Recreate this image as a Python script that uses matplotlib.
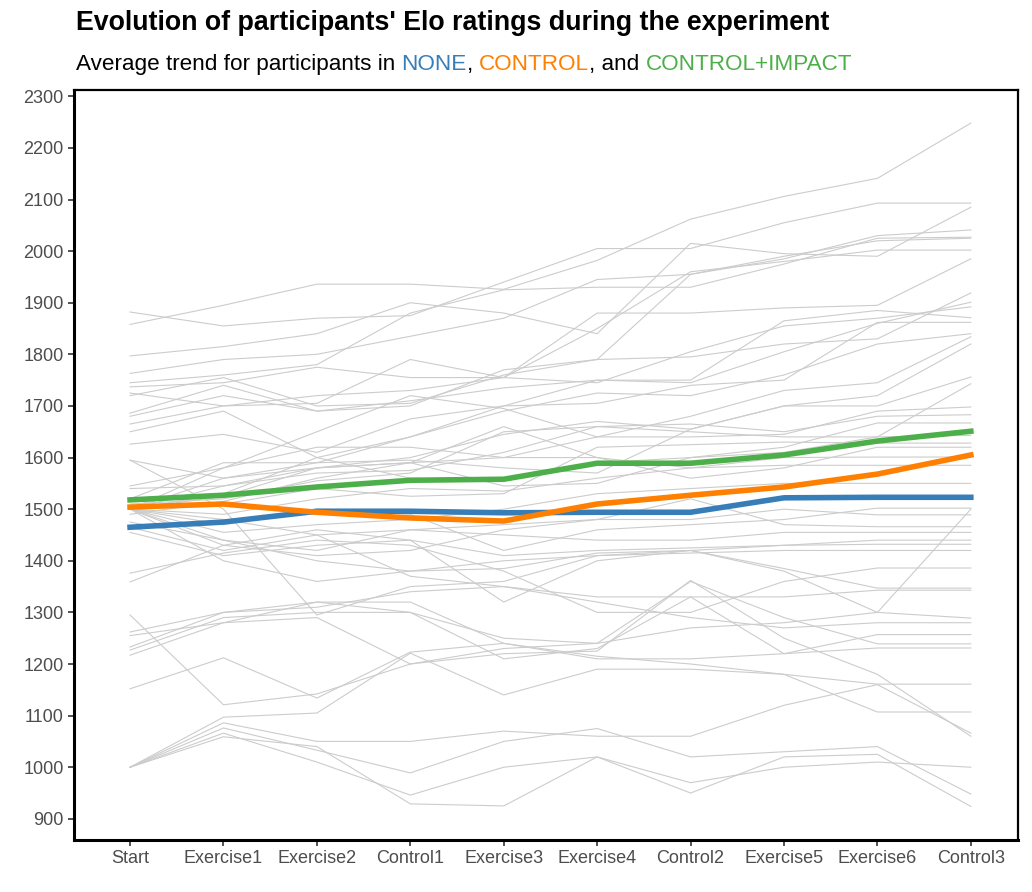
import matplotlib
matplotlib.use("Agg")
import matplotlib.pyplot as plt

plt.rcParams["font.family"] = ["Liberation Sans", "DejaVu Sans"]

STAGES = ["Start", "Exercise1", "Exercise2", "Control1", "Exercise3",
          "Exercise4", "Control2", "Exercise5", "Exercise6", "Control3"]

# group averages
NONE_AVG = [1465, 1475, 1496, 1496, 1493, 1494, 1494, 1522, 1523, 1523]
CONTROL_AVG = [1504, 1510, 1494, 1483, 1477, 1510, 1527, 1543, 1568, 1605]
IMPACT_AVG = [1518, 1527, 1543, 1556, 1558, 1589, 1589, 1605, 1632, 1651]

# individual participants
PARTICIPANTS = [
    [1858, 1895, 1936, 1936, 1926, 1982, 2062, 2106, 2141, 2248],
    [1882, 1855, 1870, 1875, 1940, 2005, 2005, 2055, 2093, 2093],
    [1797, 1815, 1840, 1900, 1880, 1840, 2015, 1995, 1990, 2085],
    [1763, 1790, 1800, 1835, 1870, 1945, 1955, 1985, 2030, 2041],
    [1745, 1760, 1780, 1880, 1925, 1930, 1930, 1975, 2025, 2027],
    [1720, 1755, 1700, 1705, 1760, 1790, 1955, 1990, 2020, 2025],
    [1737, 1745, 1775, 1755, 1755, 1850, 1960, 1980, 2002, 2002],
    [1725, 1700, 1705, 1790, 1755, 1880, 1880, 1890, 1895, 1985],
    [1686, 1740, 1690, 1700, 1770, 1790, 1795, 1820, 1830, 1919],
    [1680, 1720, 1690, 1710, 1735, 1750, 1745, 1805, 1860, 1901],
    [1665, 1700, 1720, 1730, 1755, 1745, 1805, 1855, 1870, 1892],
    [1650, 1690, 1600, 1640, 1700, 1750, 1750, 1865, 1885, 1871],
    [1626, 1645, 1610, 1675, 1700, 1705, 1740, 1750, 1862, 1862],
    [1595, 1560, 1590, 1640, 1690, 1725, 1720, 1760, 1820, 1840],
    [1545, 1580, 1650, 1720, 1695, 1640, 1680, 1730, 1745, 1834],
    [1540, 1545, 1580, 1600, 1645, 1670, 1655, 1700, 1720, 1820],
    [1520, 1590, 1590, 1595, 1580, 1570, 1655, 1700, 1700, 1756],
    [1500, 1560, 1580, 1590, 1545, 1550, 1600, 1610, 1640, 1743],
    [1500, 1580, 1620, 1620, 1600, 1640, 1640, 1645, 1690, 1698],
    [1500, 1545, 1570, 1575, 1610, 1660, 1665, 1650, 1680, 1683],
    [1500, 1530, 1600, 1560, 1555, 1590, 1600, 1620, 1667, 1667],
    [1510, 1520, 1555, 1570, 1650, 1660, 1650, 1640, 1640, 1643],
    [1500, 1510, 1540, 1525, 1530, 1620, 1625, 1630, 1628, 1628],
    [1490, 1515, 1560, 1590, 1600, 1600, 1560, 1580, 1620, 1620],
    [1500, 1525, 1580, 1590, 1660, 1600, 1580, 1600, 1601, 1601],
    [1500, 1490, 1520, 1540, 1535, 1560, 1580, 1585, 1585, 1585],
    [1500, 1455, 1470, 1480, 1500, 1530, 1540, 1550, 1550, 1550],
    [1500, 1470, 1500, 1490, 1420, 1460, 1470, 1480, 1502, 1502],
    [1475, 1440, 1420, 1460, 1470, 1480, 1480, 1500, 1489, 1489],
    [1500, 1430, 1410, 1420, 1460, 1480, 1520, 1470, 1466, 1466],
    [1465, 1420, 1450, 1460, 1450, 1440, 1440, 1455, 1455, 1455],
    [1455, 1410, 1430, 1440, 1410, 1420, 1425, 1430, 1440, 1440],
    [1500, 1440, 1400, 1380, 1385, 1415, 1420, 1430, 1432, 1432],
    [1500, 1400, 1360, 1380, 1400, 1410, 1415, 1420, 1420, 1420],
    [1376, 1415, 1440, 1430, 1380, 1300, 1300, 1360, 1386, 1386],
    [1359, 1430, 1460, 1440, 1320, 1400, 1420, 1385, 1347, 1347],
    [1500, 1480, 1450, 1370, 1350, 1330, 1330, 1330, 1343, 1343],
    [1595, 1500, 1295, 1350, 1360, 1410, 1420, 1380, 1300, 1289],
    [1262, 1300, 1310, 1340, 1350, 1320, 1290, 1270, 1280, 1280],
    [1255, 1280, 1320, 1320, 1240, 1210, 1210, 1220, 1257, 1257],
    [1233, 1300, 1320, 1300, 1250, 1240, 1360, 1290, 1239, 1239],
    [1227, 1290, 1300, 1300, 1210, 1230, 1330, 1220, 1231, 1231],
    [1295, 1121, 1142, 1200, 1230, 1240, 1270, 1280, 1300, 1500],
    [1152, 1212, 1134, 1223, 1240, 1215, 1200, 1180, 1161, 1161],
    [1000, 1097, 1105, 1221, 1140, 1190, 1190, 1180, 1107, 1107],
    [1000, 1086, 1050, 1050, 1070, 1060, 1060, 1120, 1160, 1066],
    [1000, 1076, 1033, 989, 1050, 1075, 1020, 1030, 1040, 948],
    [1000, 1066, 1010, 946, 1000, 1020, 950, 1020, 1025, 924],
    [1000, 1059, 1040, 929, 925, 1020, 970, 1000, 1010, 1000],
    [1217, 1280, 1290, 1200, 1220, 1225, 1362, 1250, 1180, 1060],
]

COLORS = {"NONE": "#377eb8", "CONTROL": "#ff7f00", "CONTROL+IMPACT": "#4daf4a"}

fig = plt.figure(figsize=(10.32, 8.92), dpi=100)
ax = fig.add_axes([0.0717, 0.0583, 0.9143, 0.8407])

x = list(range(len(STAGES)))
for values in PARTICIPANTS:
    ax.plot(x, values, color="#cccccc", linewidth=0.8, zorder=1)

ax.plot(x, NONE_AVG, color=COLORS["NONE"], linewidth=4, zorder=3)
ax.plot(x, CONTROL_AVG, color=COLORS["CONTROL"], linewidth=4, zorder=3)
ax.plot(x, IMPACT_AVG, color=COLORS["CONTROL+IMPACT"], linewidth=4, zorder=3)

ax.set_xlim(-0.6, 9.5)
ax.set_ylim(859, 2312)
ax.set_xticks(x)
ax.set_xticklabels(STAGES)
ax.set_yticks(range(900, 2301, 100))
ax.tick_params(axis="both", labelsize=13, colors="#4d4d4d", length=4, width=1.2)
ax.tick_params(axis="both", color="#333333")

for side in ["top", "right"]:
    ax.spines[side].set_linewidth(1.6)
for side in ["left", "bottom"]:
    ax.spines[side].set_linewidth(2.2)
for spine in ax.spines.values():
    spine.set_color("black")

fig.text(0.0736, 0.989, "Evolution of participants' Elo ratings during the experiment",
         fontsize=19.3, fontweight="bold", va="top", ha="left")

# subtitle with coloured group names
pieces = [
    ("Average trend for participants in ", "black"),
    ("NONE", COLORS["NONE"]),
    (", ", "black"),
    ("CONTROL", COLORS["CONTROL"]),
    (", and ", "black"),
    ("CONTROL+IMPACT", COLORS["CONTROL+IMPACT"]),
]
renderer = fig.canvas.get_renderer()
xpos = 0.0736
for text, color in pieces:
    t = fig.text(xpos, 0.928, text, fontsize=16.2, color=color, va="center", ha="left")
    bbox = t.get_window_extent(renderer=renderer)
    xpos += bbox.width / fig.bbox.width

fig.savefig("out.png", dpi=100)
